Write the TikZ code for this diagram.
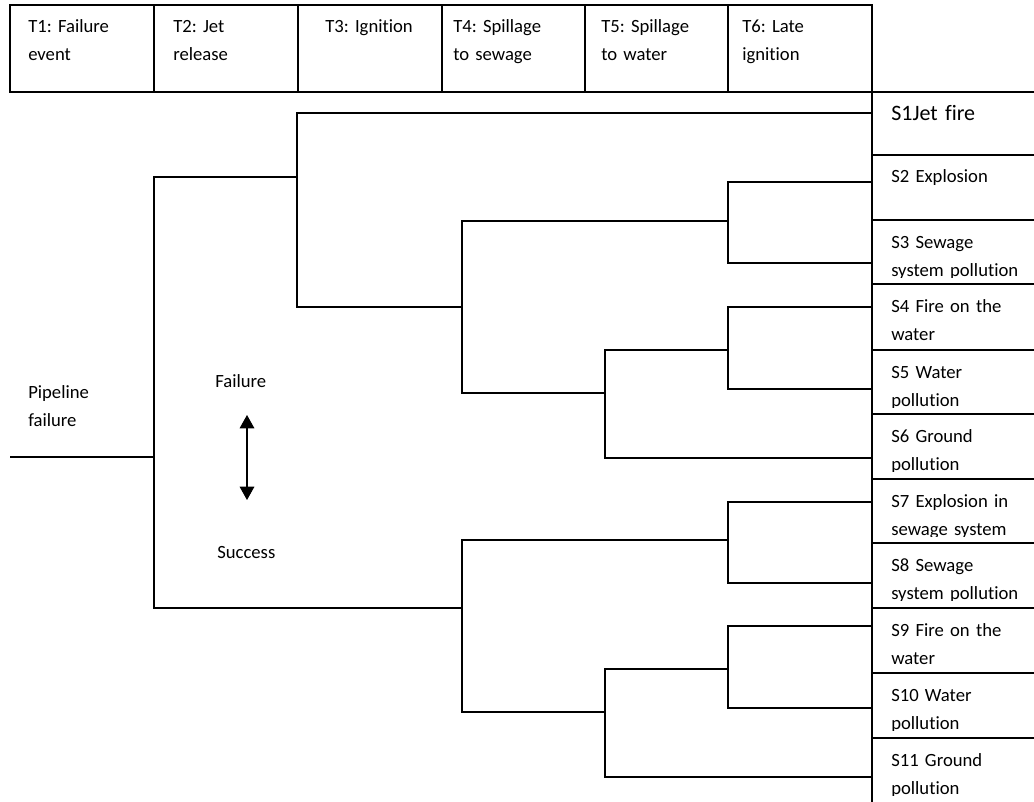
\documentclass[tikz,border=0pt]{standalone}
\usepackage{fontspec}
\setmainfont{Carlito}[Ligatures=NoCommon]
\frenchspacing
\usepackage{tikz}
\usetikzlibrary{arrows.meta,positioning}
\tikzset{>={Triangle[width=11pt,length=10pt]}}
\tikzset{font=\fontsize{14pt}{21pt}\selectfont}
\tikzset{
  grid/.style={line width=1.1pt, black},
  branch/.style={line width=1.1pt, black},
  hcell/.style={anchor=base west, inner sep=0pt, text width=120pt, align=left},
  scell/.style={anchor=base west, inner sep=0pt, text width=120pt, align=left},
  label/.style={anchor=base west, inner sep=0pt, text width=80pt, align=left}
}

\begin{document}
\begin{tikzpicture}[x=0.75pt,y=-0.75pt]
  \useasboundingbox (0,0) rectangle (1034,802);
  % header row with the events
  \draw[grid] (10,5) rectangle (872,92);
  \foreach \x in {154,298,442,585,728}
    \draw[grid] (\x,5) -- (\x,92);
  \draw[grid] (872,92) -- (1034,92);
  \foreach \n/\x/\txt in {1/28/{T1: Failure\\event}, 2/173/{T2: Jet\\release},
      3/325/{T3: Ignition}, 4/453/{T4: Spillage\\to sewage},
      5/601/{T5: Spillage\\to water}, 6/742/{T6: Late\\ignition}}
    \node[hcell] (t\n) at (\x,33) {\txt};
  % column of scenarios
  \draw[grid] (872,5) -- (872,802);
  \foreach \y in {155,220,284,350,414,479,543,608,673,738}
    \draw[grid] (872,\y) -- (1034,\y);
  \node[scell, font=\fontsize{16.5pt}{21pt}\selectfont] (s1) at (891,121) {S1Jet fire};
  \foreach \n/\t/\txt in {2/155/{S2 Explosion}, 3/220/{S3 Sewage\\system pollution},
      4/284/{S4 Fire on the\\water}, 5/350/{S5 Water\\pollution},
      6/414/{S6 Ground\\pollution}, 7/479/{S7 Explosion in\\sewage system},
      8/543/{S8 Sewage\\system pollution}, 9/608/{S9 Fire on the\\water},
      10/673/{S10 Water\\pollution}, 11/738/{S11 Ground\\pollution}}{
    \begin{scope}
      \clip (872,\t) rectangle (1034,{\t+57});
      \node[scell] (s\n) at (891,{\t+28}) {\txt};
    \end{scope}
  }
  % left labels
  \node[label] (pipe) at (28,398) {Pipeline\\failure};
  \node[label] (fail) at (215,387) {Failure};
  \node[label] (succ) at (217,558) {Success};
  \coordinate (up) at (247,415);
  \coordinate (dn) at (247,500);
  \draw[<->, line width=0.8pt] (up) -- (dn);
  % junctions of the tree
  \coordinate (r0) at (10,457);
  \coordinate (j0) at (154,457);
  \coordinate (a1) at (297,177);
  \coordinate (a2) at (462,307);
  \coordinate (a3) at (728,221);
  \coordinate (a4) at (605,393);
  \coordinate (a5) at (728,350);
  \coordinate (b1) at (462,608);
  \coordinate (b2) at (728,540);
  \coordinate (b3) at (605,712);
  \coordinate (b4) at (728,669);
  % ends at the scenarios
  \foreach \n/\y in {1/113,2/182,3/263,4/307,5/389,6/458,7/502,8/583,9/626,10/708,11/777}
    \coordinate (e\n) at (872,\y);
  \draw[branch] (r0) -- (j0);
  \draw[branch] (j0) |- (a1);
  \draw[branch] (j0) |- (b1);
  \draw[branch] (a1) |- (e1);
  \draw[branch] (a1) |- (a2);
  \draw[branch] (a2) |- (a3);
  \draw[branch] (a2) |- (a4);
  \draw[branch] (a3) |- (e2);
  \draw[branch] (a3) |- (e3);
  \draw[branch] (a4) |- (a5);
  \draw[branch] (a4) |- (e6);
  \draw[branch] (a5) |- (e4);
  \draw[branch] (a5) |- (e5);
  \draw[branch] (b1) |- (b2);
  \draw[branch] (b1) |- (b3);
  \draw[branch] (b2) |- (e7);
  \draw[branch] (b2) |- (e8);
  \draw[branch] (b3) |- (b4);
  \draw[branch] (b3) |- (e11);
  \draw[branch] (b4) |- (e9);
  \draw[branch] (b4) |- (e10);
\end{tikzpicture}
\end{document}
